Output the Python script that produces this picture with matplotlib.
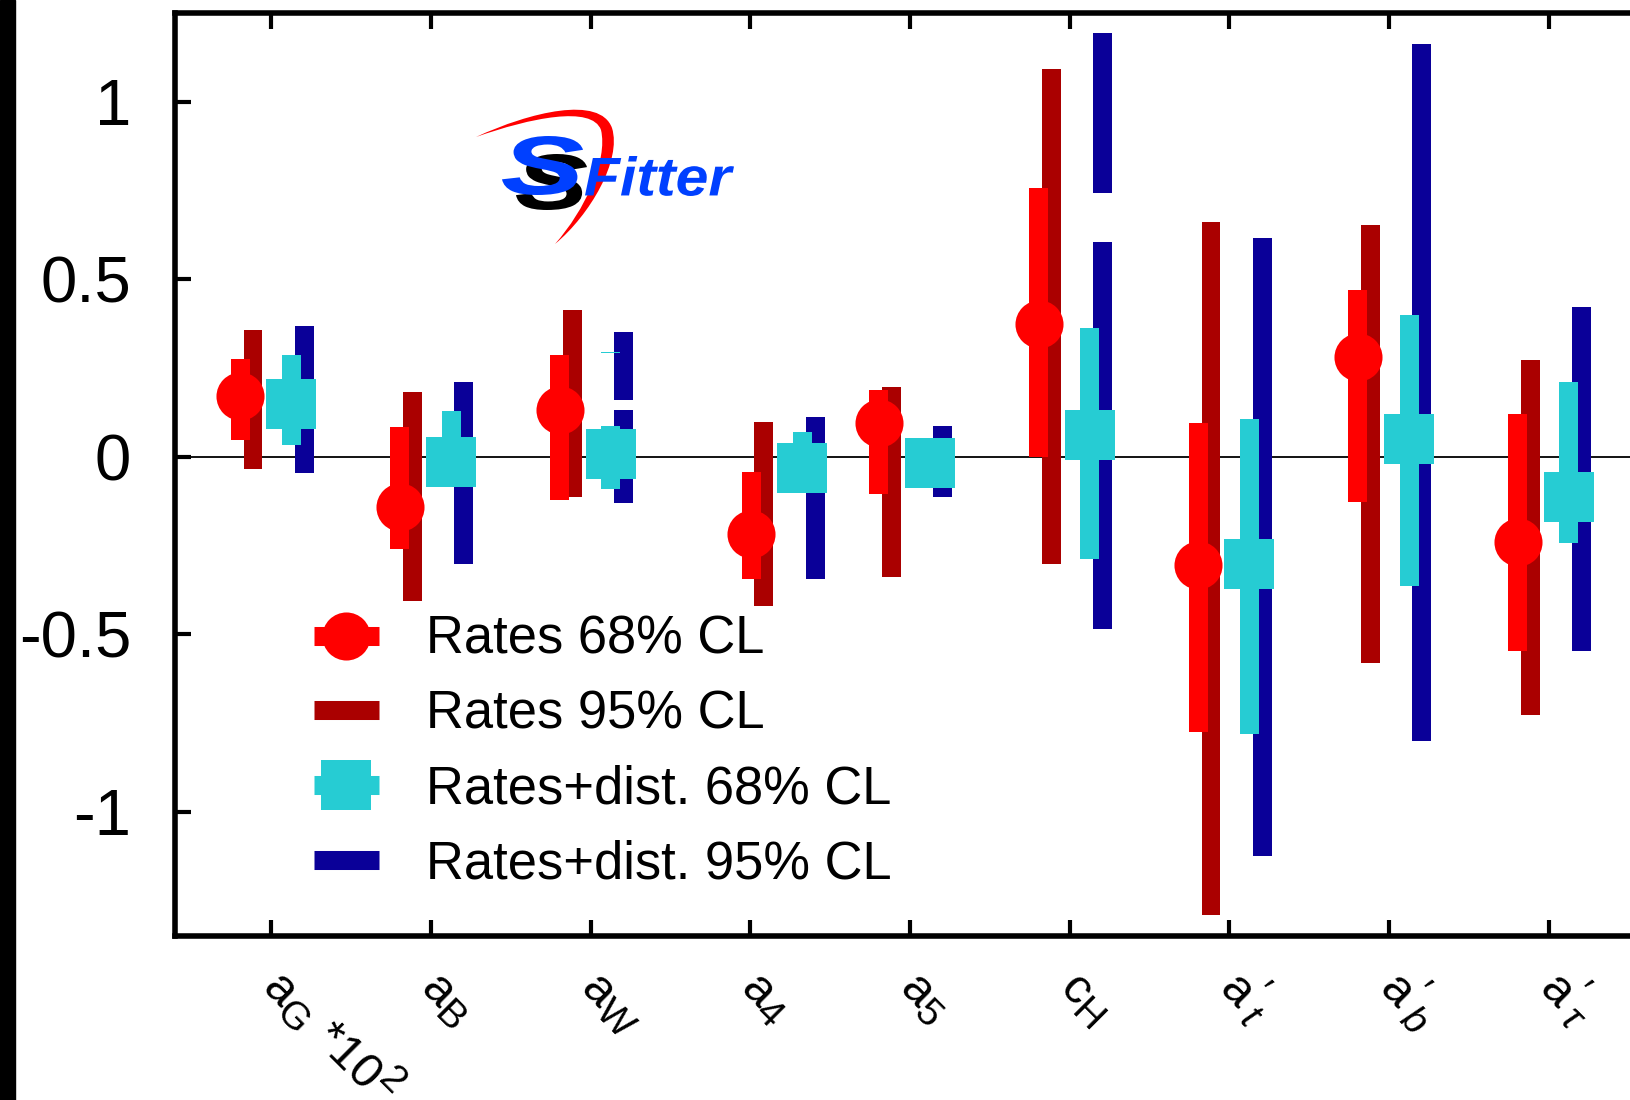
import numpy as np
import matplotlib.pyplot as plt
import matplotlib._mathtext as mathtext_impl
from matplotlib.lines import Line2D
from matplotlib.patches import PathPatch, Rectangle
from matplotlib.path import Path
from matplotlib.textpath import TextPath
from matplotlib.font_manager import FontProperties

plt.rcParams['font.family'] = 'Liberation Sans'
plt.rcParams['mathtext.fontset'] = 'custom'
plt.rcParams['mathtext.rm'] = 'Liberation Sans'
plt.rcParams['mathtext.it'] = 'Liberation Sans:italic'
plt.rcParams['axes.unicode_minus'] = False
# larger sub/superscripts for the coupling names
mathtext_impl.SHRINK_FACTOR = 0.8

W, H = 1631, 1100

# couplings on the x axis
labels = [r"$\mathrm{a}_\mathrm{G}$ *10$^\mathrm{2}$", r"$\mathrm{a}_\mathrm{B}$", r"$\mathrm{a}_\mathrm{W}$",
          r"$\mathrm{a}_\mathrm{4}$", r"$\mathrm{a}_\mathrm{5}$", r"$\mathrm{c}_\mathrm{H}$",
          r"$\mathrm{a}'_t$", r"$\mathrm{a}'_b$", r"$\mathrm{a}'_\tau$"]

# rates only fit
rates68_best = [0.171, -0.142, 0.132, -0.218, 0.096, 0.373, -0.304, 0.282, -0.240]
rates68_lo = [0.046, -0.260, -0.122, -0.343, -0.106, 0.000, -0.776, -0.127, -0.546]
rates68_hi = [0.275, 0.084, 0.286, -0.044, 0.188, 0.757, 0.096, 0.471, 0.120]
rates95_lo = [-0.035, -0.407, -0.113, -0.421, -0.338, -0.302, -1.291, -0.581, -0.727]
rates95_hi = [0.357, 0.182, 0.412, 0.098, 0.196, 1.092, 0.661, 0.654, 0.272]

# rates + distributions fit (intervals can be split in pieces)
dist68_best = [0.150, -0.016, 0.007, -0.032, -0.019, 0.061, -0.301, 0.051, -0.113]
dist68_segs = [[(0.034, 0.287)], [(-0.070, 0.129)], [(-0.090, 0.088), (0.293, 0.296)],
               [(-0.080, 0.071)], [(-0.060, 0.030)], [(-0.289, 0.362)],
               [(-0.782, 0.106)], [(-0.365, 0.399)], [(-0.242, 0.211)]]
dist95_segs = [[(-0.046, 0.368)], [(-0.302, 0.210)], [(-0.130, 0.132), (0.161, 0.351)],
               [(-0.343, 0.112)], [(-0.112, 0.086)], [(-0.485, 0.605), (0.743, 1.195)],
               [(-1.124, 0.617)], [(-0.801, 1.164)], [(-0.546, 0.422)]]

legend_names = ["Rates 68% CL", "Rates 95% CL", "Rates+dist. 68% CL", "Rates+dist. 95% CL"]

c_r68 = '#ff0000'
c_r95 = '#aa0000'
c_d68 = '#26ccd3'
c_d95 = '#0a0098'

x = np.arange(1, len(labels) + 1)
shift = np.array([0, 0, 0, 0.2, 0, 0, 0, 0, 0])
bar_w = 0.118

fig = plt.figure(figsize=(W / 100, H / 100), dpi=100)
ax = fig.add_axes([175.5 / W, (H - 936) / H, 1469 / W, 923 / H])
ax.set_xlim(0.4, 9.6)
ax.set_ylim(-1.35, 1.25)

ax.axhline(0, color='k', lw=1.3, zorder=1)

# rates: 95% behind, 68% with central value on top
xr95 = x + shift - 0.115
xr68 = x + shift - 0.195
ax.bar(xr95, np.subtract(rates95_hi, rates95_lo), bottom=rates95_lo, width=bar_w, color=c_r95, lw=0, zorder=2)
ax.bar(xr68, np.subtract(rates68_hi, rates68_lo), bottom=rates68_lo, width=bar_w, color=c_r68, lw=0, zorder=3)
ax.plot(xr68, rates68_best, 'o', ms=34.6, color=c_r68, mew=0, zorder=4)

# rates + distributions
xd95 = x + shift + 0.206
xd68 = x + shift + 0.126
for xi, segs in zip(xd95, dist95_segs):
    for lo, hi in segs:
        ax.bar(xi, hi - lo, bottom=lo, width=bar_w, color=c_d95, lw=0, zorder=2)
for xi, segs in zip(xd68, dist68_segs):
    for lo, hi in segs:
        ax.bar(xi, hi - lo, bottom=lo, width=bar_w, color=c_d68, lw=0, zorder=3)
ax.plot(xd68, dist68_best, 's', ms=35.3, color=c_d68, mew=0, zorder=4)

# axes styling
for sp in ax.spines.values():
    sp.set_linewidth(4)
ax.set_xticks(x)
ax.set_xticklabels([])
ax.set_yticks([-1, -0.5, 0, 0.5, 1])
ax.set_yticklabels(['-1', '-0.5', '0', '0.5', '1'])
ax.tick_params(direction='in', length=11.5, width=3, top=True, right=False, labelsize=47, pad=32)

for xi, lab in zip(x, labels):
    ax.annotate(lab, xy=(xi, 0), xycoords=('data', 'axes fraction'), xytext=(-8.5, -38.5),
                textcoords='offset points', rotation=-45, rotation_mode='anchor',
                ha='left', va='baseline', fontsize=35, annotation_clip=False)

handles = [Line2D([], [], color=c_r68, lw=13.7, marker='o', ms=34.6, mew=0, solid_capstyle='butt'),
           Line2D([], [], color=c_r95, lw=13.7, solid_capstyle='butt'),
           Line2D([], [], color=c_d68, lw=13.7, marker='s', ms=35.3, mew=0, solid_capstyle='butt'),
           Line2D([], [], color=c_d95, lw=13.7, solid_capstyle='butt')]
ax.legend(handles, legend_names, loc='upper left', bbox_to_anchor=(314 / W, 1 - 615 / H),
          bbox_transform=fig.transFigure, frameon=False, fontsize=37.8, handlelength=1.23,
          handletextpad=0.91, labelspacing=0.47, borderpad=0, borderaxespad=0, numpoints=1)

# dark strip along the left edge
fig.patches.append(Rectangle((0, 0), 15 / W, 1, transform=fig.transFigure, color='black', zorder=0))


# SFitter logo, laid out in pixel coordinates (origin top left)
def px(pts):
    pts = np.asarray(pts, dtype=float)
    return np.column_stack([pts[:, 0] / W, 1 - pts[:, 1] / H])


def fit_text(s, box, color, z):
    prop = FontProperties(family='Liberation Sans', weight='bold', style='italic')
    tp = TextPath((0, 0), s, size=1, prop=prop)
    ext = tp.get_extents()
    x0, y0, x1, y1 = box
    v = tp.vertices.copy()
    v[:, 0] = x0 + (v[:, 0] - ext.x0) / ext.width * (x1 - x0)
    v[:, 1] = y1 - (v[:, 1] - ext.y0) / ext.height * (y1 - y0)
    patch = PathPatch(Path(px(v), tp.codes), facecolor=color, edgecolor='none',
                      transform=fig.transFigure, zorder=z)
    fig.patches.append(patch)


swoosh = [(476, 137), (530, 112), (600, 95), (612, 128), (622, 160), (590, 215), (555, 244),
          (585, 210), (608, 160), (601, 130), (592, 105), (530, 118), (476, 137), (476, 137)]
codes = [Path.MOVETO] + [Path.CURVE4] * 12 + [Path.CLOSEPOLY]
fit_text("S", (516, 154, 587, 210), 'black', 6)
fig.patches.append(PathPatch(Path(px(swoosh), codes), facecolor='#ff0000', edgecolor='none',
                             transform=fig.transFigure, zorder=7))
fit_text("S", (502, 136, 583, 195), '#0040ff', 8)
fit_text("Fitter", (585, 156, 734, 196), '#0040ff', 9)

fig.savefig('out.png', dpi=100)
